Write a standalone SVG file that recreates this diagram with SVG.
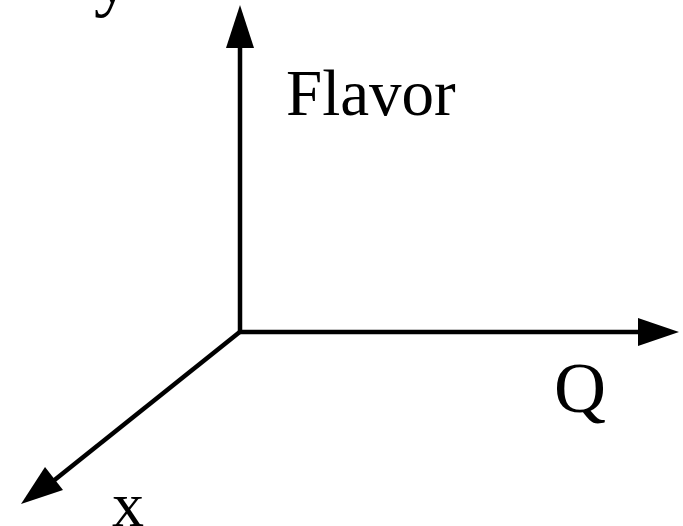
<svg xmlns="http://www.w3.org/2000/svg" width="683" height="526" viewBox="0 0 683 526">
<style>
.ax{stroke:#000;stroke-width:4.5;fill:none}
.hd{fill:#000;stroke:none}
.t{font-family:"Liberation Serif","Times New Roman",serif;fill:#000}
</style>
<rect width="683" height="526" fill="#fff"/>
<g id="connectors">
<line class="ax" x1="240" y1="334" x2="240" y2="46"/>
<polygon class="hd" points="240,5 226,48 254,48"/>
<line class="ax" x1="238" y1="332" x2="640" y2="332"/>
<polygon class="hd" points="679,332 638,318 638,346"/>
<line class="ax" x1="241" y1="331" x2="52" y2="482"/>
<polygon class="hd" points="21,504 45,467 63,490"/>
</g>
<g id="label-y"><text class="t" x="94" y="3" font-size="72">y</text></g>
<g id="label-flavor"><text class="t" x="286" y="115" font-size="65">Flavor</text></g>
<g id="label-q"><text class="t" x="554" y="412" font-size="72">Q</text></g>
<g id="label-x"><text class="t" x="112" y="526" font-size="64">x</text></g>
</svg>
